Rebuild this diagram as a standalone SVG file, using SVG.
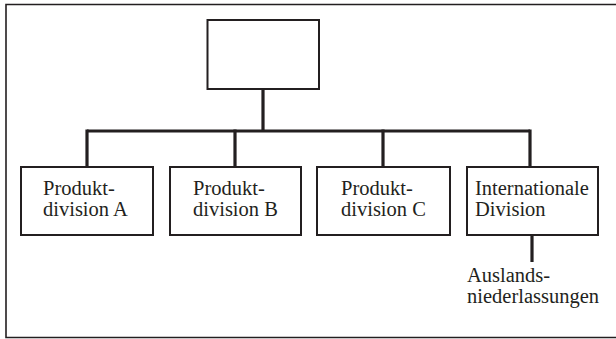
<svg xmlns="http://www.w3.org/2000/svg" width="616" height="339" viewBox="0 0 616 339">
<style>
.box{fill:#fff;stroke:#231f20;stroke-width:2}
.frame{fill:none;stroke:#231f20;stroke-width:1.6}
.conn{fill:none;stroke:#231f20;stroke-width:3.2;stroke-linecap:butt}
text{font-family:"Liberation Serif","Times New Roman",serif;font-size:20.5px;fill:#231f20}
</style>
<rect width="616" height="339" fill="#fff"/>
<path class="frame" d="M616,4.5 H6 V337.5 H616"/>
<g id="connectors">
<path class="conn" d="M263,89 V131"/>
<path class="conn" d="M87,131 H530"/>
<path class="conn" d="M87,129.5 V167"/>
<path class="conn" d="M235,129.5 V167"/>
<path class="conn" d="M383,129.5 V167"/>
<path class="conn" d="M530,129.5 V167"/>
<path class="conn" d="M532,236 V262"/>
</g>
<g id="top"><rect class="box" x="207.5" y="20" width="111.5" height="69"/></g>
<g id="divA"><rect class="box" x="21" y="167" width="132" height="68"/>
<text x="43" y="195">Produkt-</text><text x="43" y="216">division A</text></g>
<g id="divB"><rect class="box" x="170" y="167" width="131" height="68"/>
<text x="193" y="195">Produkt-</text><text x="193" y="216">division B</text></g>
<g id="divC"><rect class="box" x="317" y="167" width="133" height="68"/>
<text x="341" y="195">Produkt-</text><text x="341" y="216">division C</text></g>
<g id="intl"><rect class="box" x="467" y="167" width="131" height="68"/>
<text x="475" y="195">Internationale</text><text x="475" y="216">Division</text></g>
<g id="ausland"><text x="467" y="282">Auslands-</text><text x="467" y="303">niederlassungen</text></g>
</svg>
